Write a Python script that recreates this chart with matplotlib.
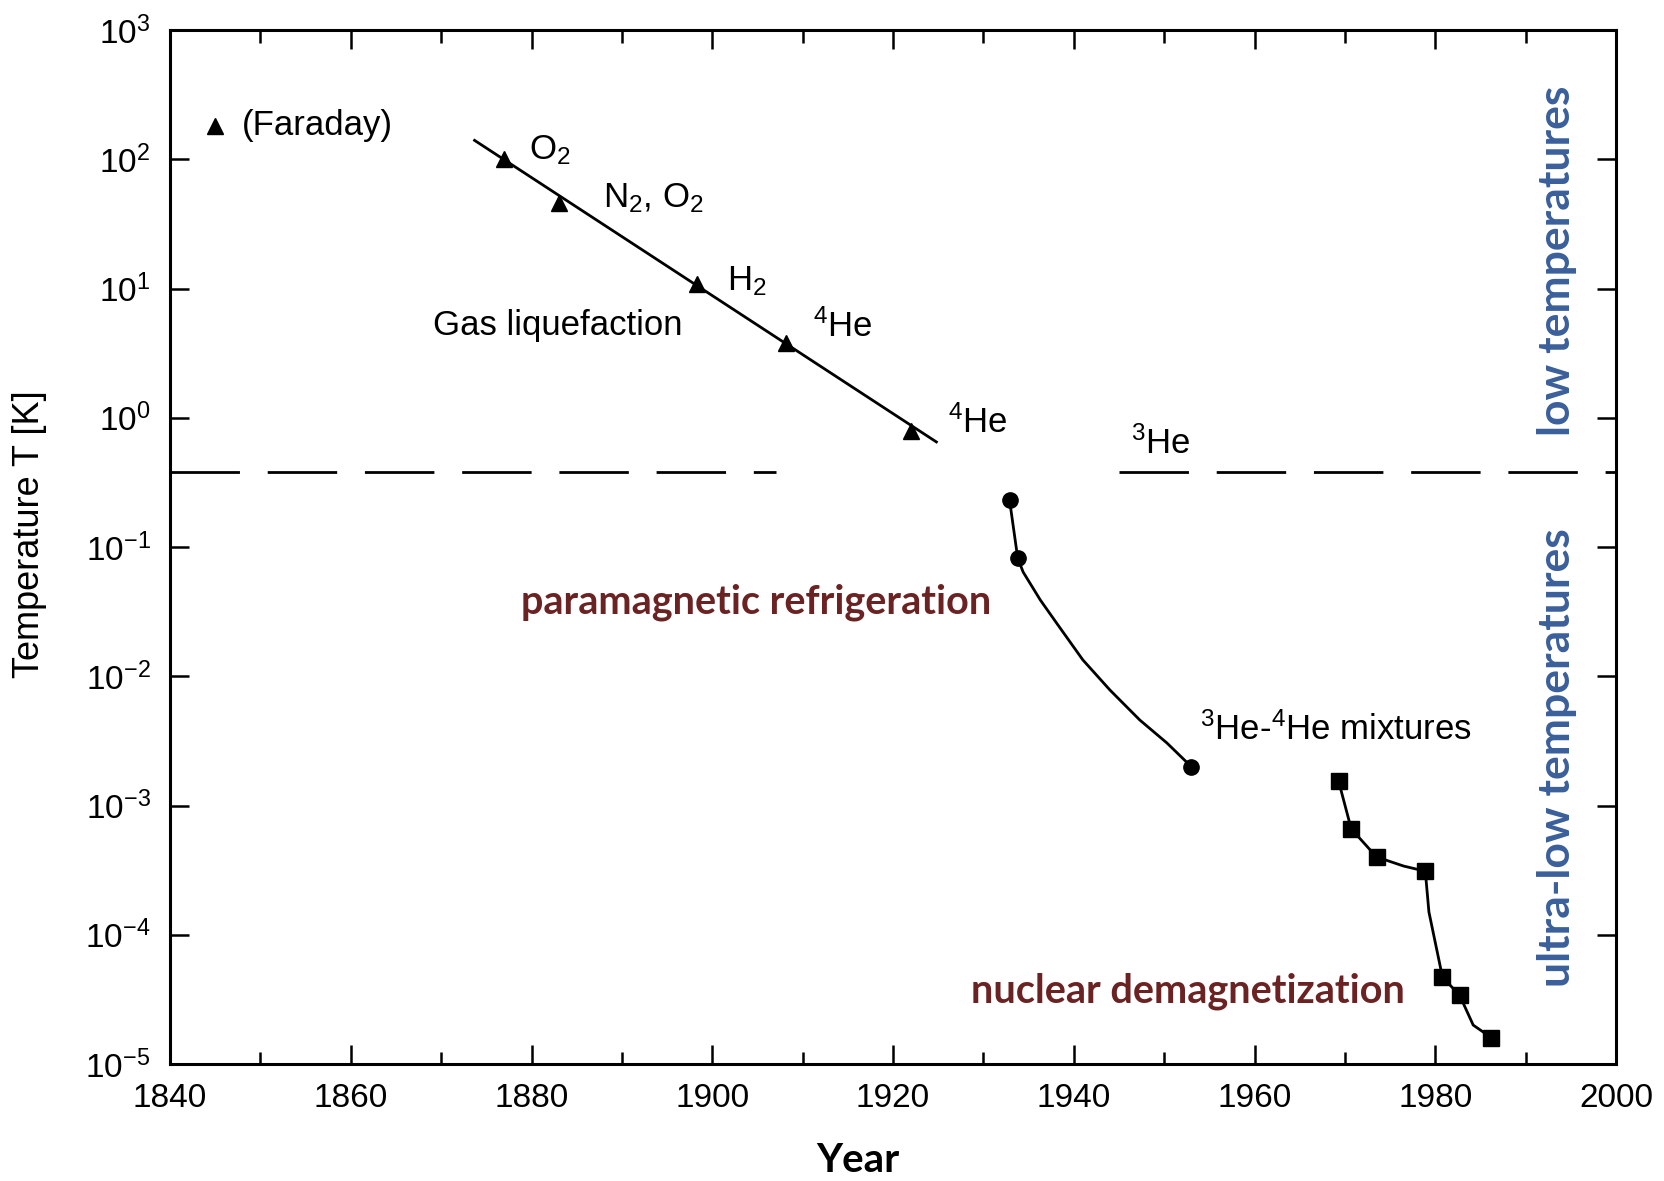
import numpy as np
import matplotlib
matplotlib.use("Agg")
import matplotlib.pyplot as plt
from matplotlib.ticker import MultipleLocator, NullLocator

plt.rcParams['font.family'] = ['Liberation Sans', 'DejaVu Sans']
plt.rcParams['mathtext.fontset'] = 'custom'
plt.rcParams['mathtext.rm'] = 'Liberation Sans'
plt.rcParams['mathtext.it'] = 'Liberation Sans'
plt.rcParams['mathtext.default'] = 'regular'
plt.rcParams['lines.scale_dashes'] = False

# gas liquefaction (triangles)
gas_years = [1877, 1883, 1898.3, 1908.2, 1922]
gas_temps = [100, 46, 10.8, 3.8, 0.79]
gas_line_years = [1873.7, 1924.8]
gas_line_temps = [140, 0.65]

faraday_year, faraday_temp = 1845, 182

# paramagnetic refrigeration (circles)
para_years = [1932.9, 1933.8, 1953.0]
para_temps = [0.23, 0.082, 0.0020]
para_curve_years = [1932.9, 1933.8, 1934.4, 1936.3, 1938.1, 1941.0, 1944.0, 1947.3, 1950.3, 1953.0]
para_curve_temps = [0.23, 0.082, 0.064, 0.0389, 0.0258, 0.0134, 0.00783, 0.00459, 0.00305, 0.0020]

# 3He-4He mixtures / nuclear demagnetization (squares)
nuc_years = [1969.3, 1970.7, 1973.5, 1978.9, 1980.8, 1982.7, 1986.2]
nuc_temps = [0.00155, 0.00066, 0.0004, 0.00031, 4.7e-5, 3.4e-5, 1.6e-5]
nuc_curve_years = [1969.3, 1970.7, 1973.5, 1976.5, 1978.9, 1979.3, 1980.8, 1982.7, 1984.2, 1986.2]
nuc_curve_temps = [0.00155, 0.00066, 0.0004, 0.00034, 0.00031, 0.00015, 4.7e-5, 3.4e-5, 2.0e-5, 1.6e-5]

boundary_temp = 0.38
boundary_left = [1840, 1907]
boundary_right = [1945, 2000]

decades = [1e-5, 1e-4, 1e-3, 1e-2, 1e-1, 1e0, 1e1, 1e2, 1e3]
decade_labels = ['$10^{-5}$', '$10^{-4}$', '$10^{-3}$', '$10^{-2}$', '$10^{-1}$',
                 '$10^{0}$', '$10^{1}$', '$10^{2}$', '$10^{3}$']

fig = plt.figure(figsize=(16.65, 11.81), dpi=100)
ax = fig.add_axes([170/1665, 1-1064/1181, 1446/1665, 1034/1181])
ax.set_yscale('log')
ax.set_xlim(1840, 2000)
ax.set_ylim(1e-5, 1e3)

lw = 2.0
ax.plot(gas_line_years, gas_line_temps, color='black', lw=lw)
ax.plot(gas_years, gas_temps, '^', color='black', ms=11)
ax.plot([faraday_year], [faraday_temp], '^', color='black', ms=11)

ax.plot(para_curve_years, para_curve_temps, color='black', lw=lw)
ax.plot(para_years, para_temps, 'o', color='black', ms=11)

ax.plot(nuc_curve_years, nuc_curve_temps, color='black', lw=lw)
ax.plot(nuc_years, nuc_temps, 's', color='black', ms=12)

for seg in (boundary_left, boundary_right):
    ax.plot(seg, [boundary_temp, boundary_temp], color='black', lw=lw,
            dashes=[50, 20])

fs = 25
ax.text(1848.0, 182, '(Faraday)', fontsize=fs, va='center', ha='left')
ax.text(1879.7, 10**2.07, 'O$_2$', fontsize=fs, va='center')
ax.text(1887.9, 10**1.70, 'N$_2$, O$_2$', fontsize=fs, va='center')
ax.text(1901.6, 10**1.058, 'H$_2$', fontsize=fs, va='center')
ax.text(1911.2, 10**0.704, '$^4$He', fontsize=fs, va='center')
ax.text(1869.1, 10**0.712, 'Gas liquefaction', fontsize=fs, va='center')
ax.text(1926.1, 10**-0.037, '$^4$He', fontsize=fs, va='center')
ax.text(1946.35, 10**-0.20, '$^3$He', fontsize=fs, va='center')
ax.text(1954.0, 10**-2.416, '$^3$He-$^4$He mixtures', fontsize=fs, va='center')

red = '#6B2222'
blue = '#3A5F9A'
ax.text(1904.9, 10**-1.428, 'paramagnetic refrigeration', fontsize=28.5,
        fontweight='bold', color=red, ha='center', va='center', family='Lato')
ax.text(1952.6, 10**-4.44, 'nuclear demagnetization', fontsize=28.5,
        fontweight='bold', color=red, ha='center', va='center', family='Lato')
ax.text(1993.5, 10**1.214, 'low temperatures', fontsize=32, fontweight='bold',
        color=blue, ha='center', va='center', rotation=90, family='Lato')
ax.text(1993.5, 10**-2.63, 'ultra-low temperatures', fontsize=32, fontweight='bold',
        color=blue, ha='center', va='center', rotation=90, family='Lato')

ax.xaxis.set_major_locator(MultipleLocator(20))
ax.xaxis.set_minor_locator(MultipleLocator(10))
ax.set_yticks(decades)
ax.set_yticklabels(decade_labels)
ax.yaxis.set_minor_locator(NullLocator())
ax.tick_params(which='both', direction='in', top=True, right=True, width=1.8)
ax.tick_params(which='major', length=14, labelsize=24, pad=14)
ax.tick_params(which='minor', length=9)
for s in ax.spines.values():
    s.set_linewidth(2.2)

fig.text(30/1665, 1-534/1181, 'Temperature T [K]', rotation=90, fontsize=26,
         ha='center', va='center')
fig.text(858/1665, 1-1160/1181, 'Year', fontsize=29, fontweight='bold',
         ha='center', va='center', family='Lato')

fig.savefig('out.png', dpi=100)
